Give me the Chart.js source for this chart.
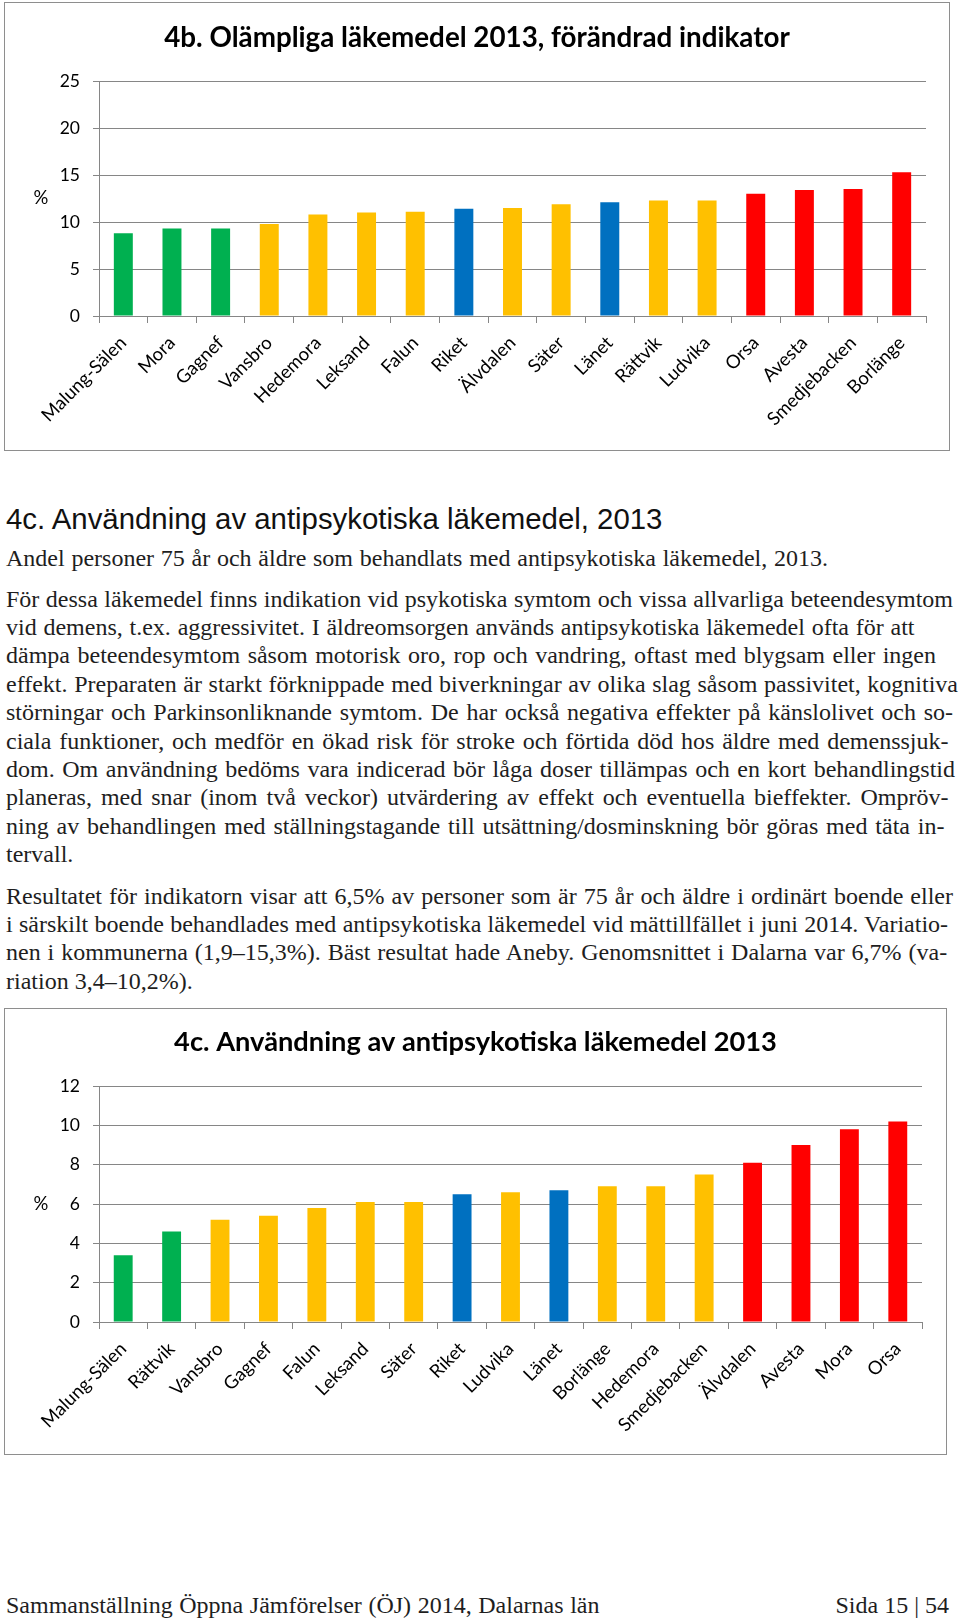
<!DOCTYPE html>
<html lang="sv">
<head>
<meta charset="utf-8">
<title>Olämpliga och antipsykotiska läkemedel 2013</title>
<script src="https://cdn.jsdelivr.net/npm/chart.js@4.4.1/dist/chart.umd.min.js"></script>
<style>
  html, body { margin: 0; padding: 0; background: #fff; }
  body { width: 960px; height: 1620px; position: relative; overflow: hidden; }
  .box { position: absolute; border: 1px solid #8e8e8e; }
  .box canvas { display: block; }
  .t { position: absolute; left: 6px; white-space: nowrap; color: #1e1e1e; }
  .serif { font-family: "Liberation Serif", serif; line-height: 28.4px; }
  .head { font-family: "Liberation Sans", Arial, sans-serif; line-height: 30px; color: #111; }
  .ln { white-space: nowrap; }
  .right { left: auto; right: 11px; }
</style>
</head>
<body>

<div class="box" style="left:4px;top:2px;width:944px;height:447px"><canvas id="chart4b" width="944" height="447"></canvas></div>

<div class="t head" style="top:504px" data-fit="664.5">4c. Användning av antipsykotiska läkemedel, 2013</div>
<div class="t serif" style="top:544px"><div class="ln" data-r="828">Andel personer 75 år och äldre som behandlats med antipsykotiska läkemedel, 2013.</div></div>

<div class="t serif" style="top:584.5px">
  <div class="ln" data-r="953">För dessa läkemedel finns indikation vid psykotiska symtom och vissa allvarliga beteendesymtom</div>
  <div class="ln" data-r="914.5">vid demens, t.ex. aggressivitet. I äldreomsorgen används antipsykotiska läkemedel ofta för att</div>
  <div class="ln" data-r="936">dämpa beteendesymtom såsom motorisk oro, rop och vandring, oftast med blygsam eller ingen</div>
  <div class="ln" data-r="958">effekt. Preparaten är starkt förknippade med biverkningar av olika slag såsom passivitet, kognitiva</div>
  <div class="ln" data-r="953">störningar och Parkinsonliknande symtom. De har också negativa effekter på känslolivet och so-</div>
  <div class="ln" data-r="948.5">ciala funktioner, och medför en ökad risk för stroke och förtida död hos äldre med demenssjuk-</div>
  <div class="ln" data-r="955">dom. Om användning bedöms vara indicerad bör låga doser tillämpas och en kort behandlingstid</div>
  <div class="ln" data-r="948.5">planeras, med snar (inom två veckor) utvärdering av effekt och eventuella bieffekter. Ompröv-</div>
  <div class="ln" data-r="944.5">ning av behandlingen med ställningstagande till utsättning/dosminskning bör göras med täta in-</div>
  <div class="ln">tervall.</div>
</div>

<div class="t serif" style="top:881.5px">
  <div class="ln" data-r="953">Resultatet för indikatorn visar att 6,5% av personer som är 75 år och äldre i ordinärt boende eller</div>
  <div class="ln" data-r="948.5">i särskilt boende behandlades med antipsykotiska läkemedel vid mättillfället i juni 2014. Variatio-</div>
  <div class="ln" data-r="948.5">nen i kommunerna (1,9–15,3%). Bäst resultat hade Aneby. Genomsnittet i Dalarna var 6,7% (va-</div>
  <div class="ln">riation 3,4–10,2%).</div>
</div>

<div class="box" style="left:4px;top:1008px;width:941px;height:445px"><canvas id="chart4c" width="941" height="445"></canvas></div>

<div class="t serif" style="top:1591px"><div class="ln" data-r="599.5">Sammanställning Öppna Jämförelser (ÖJ) 2014, Dalarnas län</div></div>
<div class="t serif right" style="top:1591px"><div class="ln">Sida 15 | 54</div></div>

<script>
// --- 4b. Olämpliga läkemedel 2013, förändrad indikator ---
const cats4b = ['Malung-Sälen', 'Mora', 'Gagnef', 'Vansbro', 'Hedemora', 'Leksand', 'Falun', 'Riket',
  'Älvdalen', 'Säter', 'Länet', 'Rättvik', 'Ludvika', 'Orsa', 'Avesta', 'Smedjebacken', 'Borlänge'];
const vals4b = [8.8, 9.3, 9.3, 9.8, 10.8, 11.0, 11.1, 11.4, 11.5, 11.9, 12.1, 12.3, 12.3, 13.0, 13.4, 13.5, 15.3];
const ticks4b = [0, 5, 10, 15, 20, 25];

// --- 4c. Användning av antipsykotiska läkemedel 2013 ---
const cats4c = ['Malung-Sälen', 'Rättvik', 'Vansbro', 'Gagnef', 'Falun', 'Leksand', 'Säter', 'Riket',
  'Ludvika', 'Länet', 'Borlänge', 'Hedemora', 'Smedjebacken', 'Älvdalen', 'Avesta', 'Mora', 'Orsa'];
const vals4c = [3.4, 4.6, 5.2, 5.4, 5.8, 6.1, 6.1, 6.5, 6.6, 6.7, 6.9, 6.9, 7.5, 8.1, 9.0, 9.8, 10.2];
const ticks4c = [0, 2, 4, 6, 8, 10, 12];

const title4b = '4b. Olämpliga läkemedel 2013, förändrad indikator';
const title4c = '4c. Användning av antipsykotiska läkemedel 2013';
const unitLabel = '%';

// bar colours (green = bäst, yellow = mitten, blue = jämförelse, red = sämst)
const GREEN = '#00B050', YELLOW = '#FFC000', BLUE = '#0070C0', RED = '#FF0000';
const colors4b = [GREEN, GREEN, GREEN, YELLOW, YELLOW, YELLOW, YELLOW, BLUE, YELLOW, YELLOW, BLUE,
  YELLOW, YELLOW, RED, RED, RED, RED];
const colors4c = [GREEN, GREEN, YELLOW, YELLOW, YELLOW, YELLOW, YELLOW, BLUE, YELLOW, BLUE, YELLOW,
  YELLOW, YELLOW, RED, RED, RED, RED];

const GRID = '#868686';
const Y_FONT = { family: 'Lato', size: 17.5 };
const X_FONT = { family: 'Lato', size: 18.5 };

// --- text measuring helpers ---
const mctx = document.createElement('canvas').getContext('2d');
function measure(str, font) {
  mctx.font = font;
  return mctx.measureText(str).width;
}
function fitSize(str, weight, family, width) {
  return 100 * width / measure(str, weight + ' 100px ' + family);
}

// --- page text: pick body size from the line widths, then fine-tune word spacing ---
const SERIF = '"Liberation Serif"';
const lines = Array.from(document.querySelectorAll('.ln'));
const ratios = lines.filter(l => l.dataset.r).map(l => (l.dataset.r - 6) / measure(l.textContent, '100px ' + SERIF))
  .sort((a, b) => a - b);
const bodySize = Math.min(100 * ratios[Math.floor(ratios.length / 2)], 24);
lines.forEach(l => {
  l.style.fontSize = bodySize + 'px';
  if (!l.dataset.r) return;
  const w = measure(l.textContent, bodySize + 'px ' + SERIF);
  const spaces = (l.textContent.match(/ /g) || []).length;
  if (spaces) l.style.wordSpacing = ((l.dataset.r - 6 - w) / spaces) + 'px';
});
document.querySelectorAll('[data-fit]').forEach(h => {
  h.style.fontSize = fitSize(h.textContent, 'normal', '"Liberation Sans"', h.dataset.fit - 6) + 'px';
});

// --- "%" beside the y axis, drawn horizontally ---
const unitPlugin = {
  id: 'unitLabel',
  afterDraw(chart, args, opts) {
    const { ctx, chartArea } = chart;
    ctx.save();
    ctx.font = X_FONT.size + 'px ' + X_FONT.family;
    ctx.fillStyle = '#000';
    ctx.textAlign = 'center';
    ctx.textBaseline = 'middle';
    ctx.fillText(unitLabel, opts.x, (chartArea.top + chartArea.bottom) / 2);
    ctx.restore();
  }
};

function makeChart(canvasId, cfg) {
  const canvas = document.getElementById(canvasId);
  const tSize = fitSize(cfg.title, 'bold', 'Lato', cfg.titleWidth);
  const lh = tSize * 1.2;
  const padTop = cfg.titleY - lh / 2;
  const padBottom = cfg.plotTop - padTop - lh;
  const xHeight = canvas.height - cfg.plotBottom;

  return new Chart(canvas, {
    type: 'bar',
    data: {
      labels: cfg.cats,
      datasets: [{
        data: cfg.vals,
        backgroundColor: cfg.colors,
        barPercentage: 0.39,
        categoryPercentage: 1
      }]
    },
    options: {
      responsive: false,
      animation: false,
      devicePixelRatio: 1,
      // same padding on both sides keeps the full-width title centred on the canvas
      layout: { padding: { left: cfg.sidePad, right: cfg.sidePad, top: 0, bottom: 0 } },
      plugins: {
        legend: { display: false },
        tooltip: { enabled: false },
        title: {
          display: true,
          text: cfg.title,
          color: '#000',
          font: { family: 'Lato', weight: 'bold', size: tSize, lineHeight: 1.2 },
          padding: { top: padTop, bottom: padBottom }
        },
        unitLabel: { x: 36 }
      },
      scales: {
        x: {
          grid: { drawOnChartArea: false, drawTicks: true, tickLength: 7, color: GRID, offset: true },
          border: { display: true, color: GRID, width: 1 },
          ticks: { autoSkip: false, minRotation: 45, maxRotation: 45, padding: 9, color: '#000', font: X_FONT },
          afterFit: s => { s.height = xHeight; }
        },
        y: {
          min: cfg.ticks[0],
          max: cfg.ticks[cfg.ticks.length - 1],
          grid: { color: GRID, tickLength: 6 },
          border: { display: true, color: GRID, width: 1 },
          ticks: { stepSize: cfg.ticks[1] - cfg.ticks[0], padding: 13, color: '#000', font: Y_FONT },
          afterFit: s => { s.width = cfg.plotLeft - cfg.sidePad; }
        }
      }
    },
    plugins: [unitPlugin]
  });
}

makeChart('chart4b', {
  title: title4b, cats: cats4b, vals: vals4b, colors: colors4b, ticks: ticks4b,
  titleWidth: 626, titleY: 35, plotTop: 78, plotBottom: 313, plotLeft: 94, sidePad: 23
});

makeChart('chart4c', {
  title: title4c, cats: cats4c, vals: vals4c, colors: colors4c, ticks: ticks4c,
  titleWidth: 603, titleY: 33, plotTop: 77, plotBottom: 313, plotLeft: 94, sidePad: 24
});
</script>
</body>
</html>
